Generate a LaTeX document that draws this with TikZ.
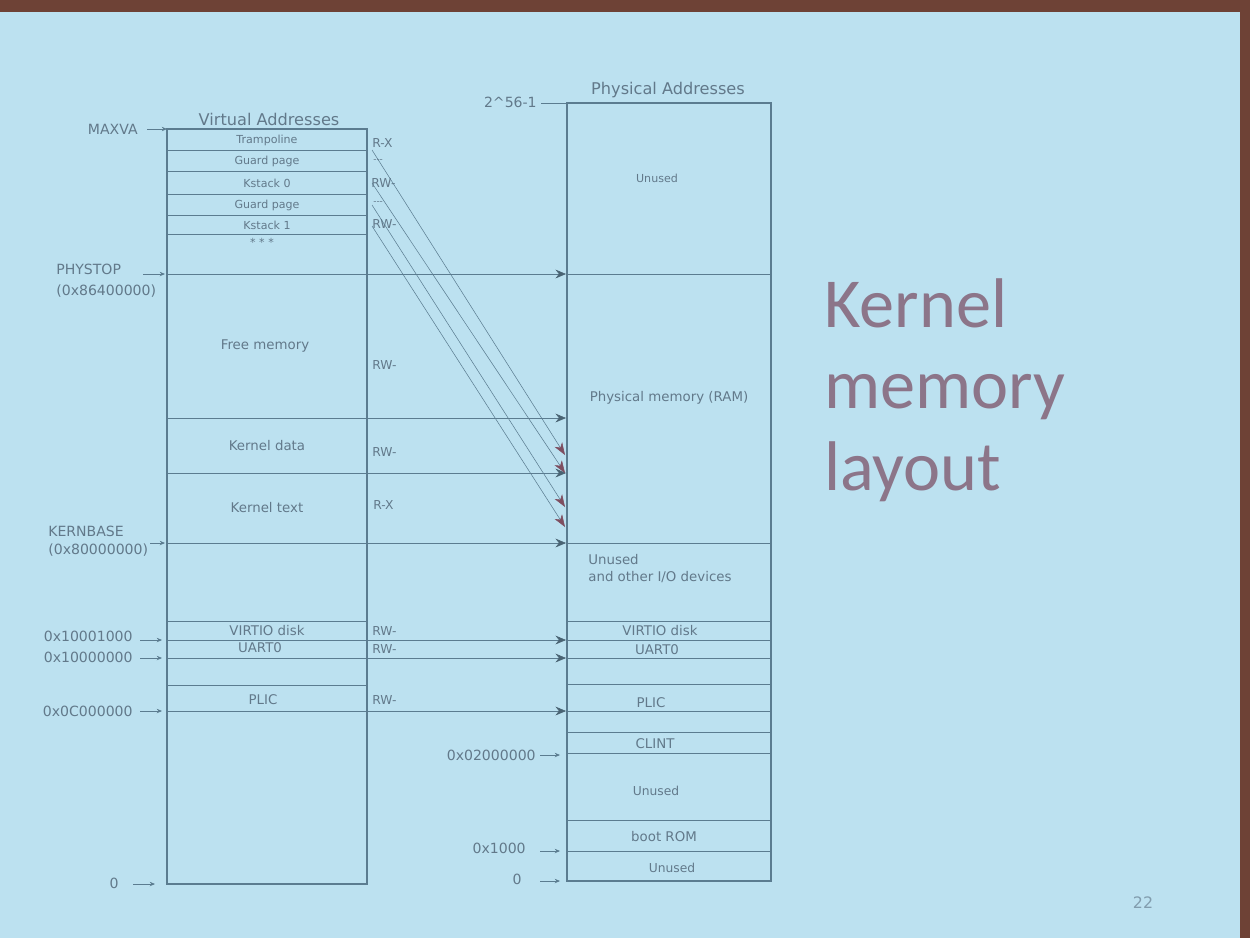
\documentclass[tikz,border=0pt]{standalone}
\usepackage{fontspec}
\setmainfont{DejaVu Sans}
\newfontfamily\titlefont{Carlito}
\usetikzlibrary{arrows.meta}
\definecolor{slidebg}{HTML}{BCE1F0}
\definecolor{frame}{HTML}{6E4236}
\definecolor{ln}{HTML}{5B7C90}
\definecolor{txt}{HTML}{62798A}
\definecolor{ttl}{HTML}{8C7589}
\definecolor{redtip}{HTML}{7E4E60}
\tikzset{
  fs/.style={font=\fontsize{#1}{#1}\selectfont},
  row/.style={text=txt, inner sep=0pt, fs=6.3},
  big/.style={text=txt, inner sep=0pt, fs=7.6},
  perm/.style={text=txt, inner sep=0pt, anchor=west, fs=7},
  addr/.style={text=txt, inner sep=0pt, fs=8, align=left},
  head/.style={text=txt, inner sep=0pt, fs=9.2},
  boxline/.style={draw=ln, line width=0.75pt},
  sepline/.style={draw=ln, line width=0.55pt},
  maparrow/.style={draw=ln, line width=0.3pt, -{Stealth[length=6pt,width=5pt,inset=2pt,color=ln!80!black,fill=ln!80!black]}},
  diagarrow/.style={draw=ln, line width=0.3pt, -{Stealth[length=7pt,width=5pt,inset=2pt,color=redtip,fill=redtip]}},
  tick/.style={draw=ln, line width=0.4pt, -{Stealth[length=3pt,width=2.5pt]}},
  titletext/.style={text=ttl, inner sep=0pt, anchor=base west, font=\titlefont\fontsize{40}{40}\selectfont},
}
\begin{document}
\begin{tikzpicture}[x=0.02cm,y=-0.02cm]
\useasboundingbox (0,0) rectangle (1250,938);
% photo frame and slide
\fill[frame] (0,0) rectangle (1250,938);
\fill[slidebg] (0,12) rectangle (1240,938);

% ---------------- Virtual column ----------------
\node[head] (vtitle) at (269,119) {Virtual Addresses};
\draw[boxline] (167,129) rectangle (367,884);
\foreach \y in {150,171,194,215,234,274,418,473,543,621,640,658,685,711}
  \draw[sepline] (167,\y) -- (367,\y);
\node[row] (vtramp) at (267,140) {Trampoline};
\node[row] (vg1) at (267,161) {Guard page};
\node[row] (vks0) at (267,183) {Kstack 0};
\node[row] (vg2) at (267,205) {Guard page};
\node[row] (vks1) at (267,225) {Kstack 1};
\node[row] (vdots) at (262,242) {* * *};
\node[big] (vfree) at (265,346) {Free memory};
\node[big] (vkdata) at (267,446) {Kernel data};
\node[big] (vktext) at (267,508) {Kernel text};
\node[big] (vvirtio) at (267,631) {VIRTIO disk};
\node[big] (vuart) at (260,648) {UART0};
\node[big] (vplic) at (263,700) {PLIC};

% permissions
\node[perm] (p1) at (372,143) {R-X};
\node[perm, fs=5] (p2) at (373,161) {-{}-{}-};
\node[perm] (p3) at (371,183) {RW-};
\node[perm, fs=5] (p4) at (373,203) {-{}-{}-};
\node[perm] (p5) at (372,224) {RW-};
\node[perm] (p6) at (372,365) {RW-};
\node[perm] (p7) at (372,452) {RW-};
\node[perm] (p8) at (373,505) {R-X};
\node[perm] (p9) at (372,631) {RW-};
\node[perm] (p10) at (372,649) {RW-};
\node[perm] (p11) at (372,700) {RW-};

% left address labels
\node[addr, anchor=east] (maxva) at (138,129) {MAXVA};
\node[addr, anchor=west] (phystop) at (56,281) {PHYSTOP\\[4pt](0x86400000)};
\node[addr, anchor=west] (kernbase) at (48,541) {KERNBASE\\[2pt](0x80000000)};
\node[addr, anchor=east] (a1) at (133,636) {0x10001000};
\node[addr, anchor=east] (a2) at (133,657) {0x10000000};
\node[addr, anchor=east] (a3) at (133,711) {0x0C000000};
\node[addr, anchor=east] (a0) at (119,883) {0};

\coordinate (tMAX) at (147,129);   \coordinate (tMAXe) at (167,129);
\coordinate (tPHY) at (143,274);   \coordinate (tPHYe) at (165,274);
\coordinate (tKB) at (150,543);    \coordinate (tKBe) at (165,543);
\coordinate (tA1) at (140,640);    \coordinate (tA1e) at (162,640);
\coordinate (tA2) at (140,658);    \coordinate (tA2e) at (162,658);
\coordinate (tA3) at (140,711);    \coordinate (tA3e) at (162,711);
\coordinate (tA0) at (133,884);    \coordinate (tA0e) at (155,884);
\foreach \a in {MAX,PHY,KB,A1,A2,A3,A0}
  \draw[tick] (t\a) -- (t\a e);

% ---------------- Physical column ----------------
\node[head] (ptitle) at (668,90) {Physical Addresses};
\draw[boxline] (567,103) rectangle (771,881);
\foreach \y in {274,543,621,640,658,684,711,732,753,820,851}
  \draw[sepline] (567,\y) -- (771,\y);
\node[row] (punused1) at (657,178) {Unused};
\node[big] (pram) at (669,398) {Physical memory (RAM)};
\node[big, align=left, anchor=north west] (pio) at (588,554) {Unused\\[2pt]and other I/O devices};
\node[big] (pvirtio) at (660,631) {VIRTIO disk};
\node[big] (puart) at (657,650) {UART0};
\node[big] (pplic) at (651,703) {PLIC};
\node[big] (pclint) at (655,744) {CLINT};
\node[row, fs=7] (punused2) at (656,791) {Unused};
\node[big] (pboot) at (664,836) {boot ROM};
\node[row, fs=7] (punused3) at (672,868) {Unused};

\node[addr, anchor=east] (top) at (537,102) {2\^{}56-1};
\node[addr, anchor=east] (b2) at (536,755) {0x02000000};
\node[addr, anchor=east] (b1) at (526,848) {0x1000};
\node[addr, anchor=east] (b0) at (522,879) {0};
\coordinate (uTOP) at (541,103); \coordinate (uTOPe) at (567,103);
\coordinate (uB2) at (540,755);  \coordinate (uB2e) at (560,755);
\coordinate (uB1) at (540,851);  \coordinate (uB1e) at (560,851);
\coordinate (uB0) at (540,881);  \coordinate (uB0e) at (560,881);
\draw[draw=ln, line width=0.4pt] (uTOP) -- (uTOPe);
\foreach \a in {B2,B1,B0}
  \draw[tick] (u\a) -- (u\a e);

% ---------------- Mappings ----------------
\foreach \y in {274,418,473,543,640,658,711} {
  \coordinate (v\y) at (367,\y);
  \coordinate (p\y) at (566,\y);
  \draw[maparrow] (v\y) -- (p\y);
}
\coordinate (d1s) at (372,150); \coordinate (d1e) at (565,455);
\coordinate (d2s) at (372,183); \coordinate (d2e) at (565,473);
\coordinate (d3s) at (372,205); \coordinate (d3e) at (565,507);
\coordinate (d4s) at (372,226); \coordinate (d4e) at (565,527);
\foreach \i in {1,2,3,4}
  \draw[diagarrow] (d\i s) -- (d\i e);

% ---------------- Slide title ----------------
\node[titletext] (t1) at (824,327) {Kernel};
\node[titletext] (t2) at (824,408) {memory};
\node[titletext] (t3) at (824,490) {layout};
\node[text=txt!65!slidebg, inner sep=0pt, fs=9] (pnum) at (1143,903) {22};
\end{tikzpicture}
\end{document}
